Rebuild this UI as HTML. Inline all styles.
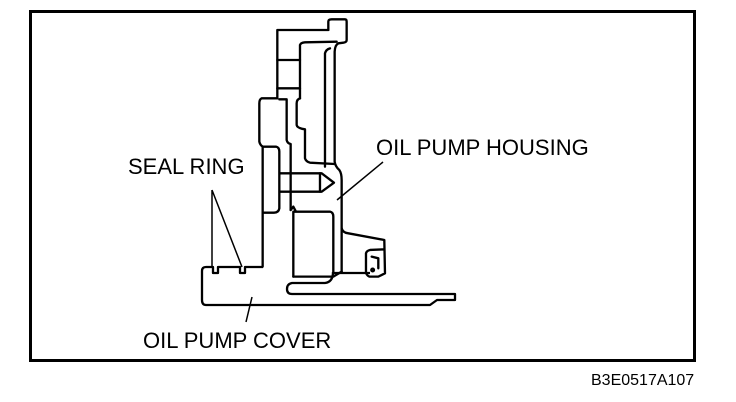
<!DOCTYPE html>
<html><head><meta charset="utf-8"><style>
html,body{margin:0;padding:0;background:#fff;}
svg{display:block;}
text{font-family:"Liberation Sans",Arial,sans-serif;fill:#000;}
</style></head><body>
<svg width="736" height="402" viewBox="0 0 736 402" xmlns="http://www.w3.org/2000/svg">
<rect x="30.5" y="11.5" width="664" height="349" fill="none" stroke="#000" stroke-width="3"/>
<g fill="none" stroke="#000" stroke-width="7" stroke-linejoin="round" stroke-linecap="round" transform="translate(190,10) scale(0.3333)">
  <path d="M415,60 L415,35 Q415,28 425,28 L465,28 Q470,28 470,35 L470,90 Q470,97 460,98 L445,100 Q435,105 434,125 L434,455 Q436,470 448,480 Q455,490 455,510 L455,655 Q458,668 475,670 L583,690 L585,790 L565,800 L538,800 Q528,795 528,785 L528,730 Q530,722 540,720 L583,718"/>
  <path d="M455,655 L455,785"/>
  <path d="M545,740 L565,745 L565,775"/>
  <circle cx="548" cy="780" r="4"/>
  <path d="M415,60 L262,60 L262,265"/>
  <path d="M330,265 L330,105 Q332,98 345,97 L440,95"/>
  <path d="M330,265 Q320,268 320,280 L320,345 Q322,355 345,358 L345,445 Q348,455 360,458 L434,462"/>
  <path d="M405,470 L405,130 Q408,118 420,115"/>
  <path d="M262,150 L330,150 M262,235 L330,235"/>
  <path d="M262,265 L215,265 Q208,268 208,280 L208,395 Q210,405 218,410 L218,770"/>
  <path d="M218,410 L258,410 Q268,412 268,425 L268,595 Q266,608 252,608 L218,608"/>
  <path d="M268,268 L290,268 L290,390 Q292,400 302,402 L302,600"/>
  <path d="M270,490 L395,490 L432,518 L395,545 L270,545"/>
  <path d="M390,490 L390,545"/>
  <path d="M302,600 L310,590 L318,605 L310,605 M310,605 L310,800 M310,605 L420,605 Q430,607 430,620 L430,790"/>
  <path d="M310,800 L430,800 L455,785"/>
</g>
<g fill="none" stroke="#000" stroke-width="2.3" stroke-linejoin="round">
  <path d="M333,272 Q333,282 325,283 L292,283 Q287,284 287,289 Q287,294 292,294 L455,294 L455,300 L437,300 L430,305 L206,305 Q202,305 202,300 L202,271 Q202,267 206,267 L213,267 L213,273 L218,273 L218,267 L240,267 L240,273 L245,273 L245,267 L263,267"/>
  <path d="M333,273 L370,273"/>
  <path d="M212,190 L212,267 M212,190 L242,267" stroke-width="1.5"/>
  <path d="M383,162 L337,200" stroke-width="1.5"/>
  <path d="M252,297 L246,322" stroke-width="1.5"/>
</g>
<text x="128" y="174" font-size="22">SEAL RING</text>
<text x="376" y="155" font-size="22">OIL PUMP HOUSING</text>
<text x="143" y="348" font-size="22">OIL PUMP COVER</text>
<text x="591" y="385" font-size="16">B3E0517A107</text>
</svg>
</body></html>
